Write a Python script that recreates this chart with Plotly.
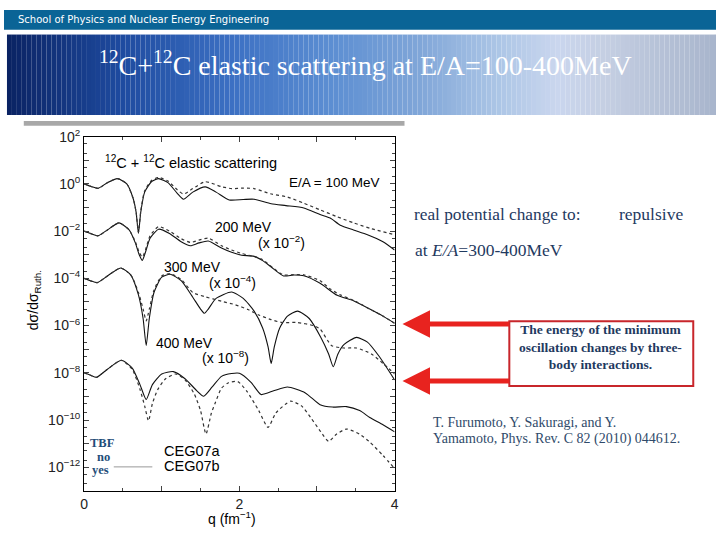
import plotly.graph_objects as go

W, H = 720, 540
def px(x): return x / W
def py(y): return 1 - y / H

# ---------------- data (log10 of dsigma/dsigma_Ruth, incl. scale factors) ----------------
# 100 MeV
q_100_b = [0, 0.1, 0.18, 0.3, 0.43, 0.55, 0.63, 0.67, 0.70, 0.73, 0.78, 0.87, 0.96, 1.08, 1.2, 1.28, 1.4, 1.56, 1.7, 1.87, 2.05, 2.19, 2.41, 2.6, 2.83, 3.04, 3.17, 3.3, 3.47, 3.65, 3.85, 4.0]
lg_100_b = [0.0, -0.12, -0.19, 0.05, 0.22, 0.0, -0.6, -1.2, -2.1, -1.2, -0.35, 0.1, 0.22, 0.05, -0.4, -0.65, -0.35, -0.13, -0.35, -0.68, -0.66, -0.65, -0.84, -0.92, -1.02, -1.3, -1.45, -1.75, -1.95, -2.15, -2.45, -2.8]
q_100_a = [0, 0.1, 0.18, 0.3, 0.43, 0.55, 0.63, 0.67, 0.70, 0.73, 0.78, 0.87, 0.96, 1.08, 1.2, 1.28, 1.4, 1.56, 1.77, 1.9, 2.05, 2.19, 2.4, 2.62, 2.83, 3.04, 3.25, 3.47, 3.7, 4.0]
lg_100_a = [0.0, -0.12, -0.19, 0.05, 0.22, 0.0, -0.6, -1.2, -2.05, -1.15, -0.3, 0.15, 0.27, 0.12, -0.25, -0.43, -0.2, 0.09, -0.12, -0.2, -0.18, -0.2, -0.42, -0.56, -0.82, -1.1, -1.38, -1.65, -1.9, -2.15]

# 200 MeV (x 1e-2)
q_200_b = [0, 0.1, 0.18, 0.3, 0.45, 0.58, 0.66, 0.71, 0.75, 0.79, 0.85, 0.96, 1.1, 1.25, 1.37, 1.48, 1.6, 1.77, 1.9, 2.03, 2.19, 2.3, 2.41, 2.57, 2.7, 2.83, 3.04, 3.26, 3.47, 3.68, 3.85, 4.0]
lg_200_b = [-2.0, -2.12, -2.2, -1.95, -1.65, -1.95, -2.5, -3.0, -3.24, -2.9, -2.3, -1.92, -2.1, -2.45, -2.62, -2.5, -2.42, -2.72, -2.9, -3.02, -3.07, -3.25, -3.52, -3.9, -3.86, -3.89, -4.21, -4.72, -4.95, -5.3, -5.6, -5.9]
q_200_a = [0, 0.1, 0.18, 0.3, 0.45, 0.58, 0.66, 0.71, 0.75, 0.79, 0.85, 0.96, 1.1, 1.25, 1.37, 1.48, 1.6, 1.77, 1.9, 2.03, 2.28, 2.45, 2.57, 2.7, 2.83, 3.04, 3.17, 3.3, 3.47, 3.68, 3.85, 4.0]
lg_200_a = [-2.0, -2.12, -2.2, -1.95, -1.65, -1.95, -2.45, -2.9, -3.1, -2.8, -2.2, -1.81, -2.0, -2.32, -2.48, -2.38, -2.3, -2.62, -2.8, -2.95, -3.17, -3.6, -3.86, -3.84, -3.85, -4.1, -4.45, -4.7, -4.93, -5.3, -5.6, -5.9]

# 300 MeV (x 1e-4)
q_300_b = [0, 0.08, 0.17, 0.3, 0.47, 0.6, 0.7, 0.76, 0.80, 0.84, 0.9, 1.0, 1.11, 1.25, 1.4, 1.5, 1.55, 1.6, 1.7, 1.9, 2.05, 2.19, 2.3, 2.37, 2.41, 2.45, 2.52, 2.62, 2.75, 2.9, 3.05, 3.15, 3.21, 3.27, 3.35, 3.51, 3.65, 3.8, 4.0]
lg_300_b = [-4.0, -4.1, -4.18, -3.9, -3.56, -3.85, -4.7, -5.7, -6.84, -5.7, -4.6, -3.95, -3.83, -4.1, -4.8, -5.3, -5.48, -5.3, -4.85, -4.58, -4.85, -5.39, -6.1, -6.9, -7.6, -6.9, -6.1, -5.6, -5.39, -5.7, -6.5, -7.2, -7.74, -7.2, -6.8, -6.5, -6.7, -7.3, -8.3]
q_300_a = [0, 0.08, 0.17, 0.3, 0.47, 0.6, 0.7, 0.76, 0.80, 0.84, 0.9, 1.0, 1.11, 1.25, 1.4, 1.55, 1.77, 1.95, 2.11, 2.25, 2.41, 2.55, 2.75, 2.95, 3.04, 3.19, 3.35, 3.51, 3.7, 3.85, 4.0]
lg_300_a = [-4.0, -4.1, -4.18, -3.9, -3.56, -3.85, -4.6, -5.3, -5.8, -5.3, -4.5, -3.9, -3.8, -4.05, -4.6, -4.77, -4.97, -5.12, -5.32, -5.55, -5.75, -5.87, -5.87, -6.0, -6.15, -6.85, -6.95, -6.95, -7.2, -7.6, -8.05]

# 400 MeV (x 1e-8)
q_400_b = [0, 0.08, 0.16, 0.3, 0.48, 0.62, 0.72, 0.80, 0.88, 1.0, 1.15, 1.3, 1.45, 1.54, 1.65, 1.77, 1.9, 2.0, 2.15, 2.28, 2.45, 2.62, 2.85, 3.04, 3.2, 3.38, 3.55, 3.68, 3.85, 4.0]
lg_400_b = [-8.0, -8.1, -8.19, -7.85, -7.47, -7.8, -8.5, -9.13, -8.5, -8.05, -7.95, -8.25, -8.75, -8.99, -8.6, -8.15, -8.03, -8.02, -8.4, -8.92, -8.75, -8.6, -8.85, -9.35, -9.45, -9.43, -9.6, -9.89, -10.2, -10.5]
q_400_a = [0, 0.08, 0.16, 0.3, 0.48, 0.62, 0.72, 0.78, 0.83, 0.88, 0.95, 1.05, 1.18, 1.3, 1.42, 1.5, 1.57, 1.64, 1.69, 1.77, 1.86, 1.98, 2.1, 2.25, 2.37, 2.47, 2.66, 2.8, 2.92, 3.05, 3.15, 3.25, 3.38, 3.55, 3.68, 3.85, 4.0]
lg_400_a = [-8.0, -8.1, -8.19, -7.85, -7.47, -7.85, -8.7, -9.4, -10.03, -9.3, -8.7, -8.25, -8.05, -8.3, -8.9, -9.6, -10.59, -9.7, -9.27, -8.65, -8.42, -8.37, -8.8, -9.6, -10.31, -9.7, -9.2, -9.4, -9.9, -10.5, -10.9, -10.6, -10.38, -10.6, -10.93, -11.5, -12.05]

x_tick_vals = [0, 1, 2, 3, 4]
x_tick_text = ["0", "", "2", "", "4"]
y_tick_exps = list(range(-13, 3))
y_tick_text = [("10<sup>%s</sup>" % (str(k).replace("-", "\u2212")) if k % 2 == 0 else "") for k in y_tick_exps]

series = [
    (q_100_b, lg_100_b, "solid"), (q_100_a, lg_100_a, "dot"),
    (q_200_b, lg_200_b, "solid"), (q_200_a, lg_200_a, "dot"),
    (q_300_b, lg_300_b, "solid"), (q_300_a, lg_300_a, "dot"),
    (q_400_b, lg_400_b, "solid"), (q_400_a, lg_400_a, "dot"),
]

fig = go.Figure()
for qs, lgs, dash in series:
    fig.add_trace(go.Scatter(
        x=qs, y=[10 ** v for v in lgs], mode="lines",
        line=dict(color="#111" if dash == "solid" else "#333", width=1.1 if dash == "solid" else 1.2,
                  dash=dash, shape="spline", smoothing=0.6),
        showlegend=False, hoverinfo="skip"))

SANS = "Liberation Sans, Arial, sans-serif"
SERIF = "Liberation Serif, Times New Roman, serif"

fig.update_layout(
    width=W, height=H, margin=dict(l=0, r=0, t=0, b=0),
    paper_bgcolor="white", plot_bgcolor="white",
    xaxis=dict(domain=[px(81), px(395)], range=[0, 4], showline=True, linecolor="black", linewidth=1,
               mirror="ticks", ticks="inside", ticklen=5, tickvals=x_tick_vals, ticktext=x_tick_text,
               showgrid=False, zeroline=False, tickfont=dict(family=SANS, size=14, color="#222"),
               minor=dict(ticks="inside", ticklen=3, dtick=0.5, showgrid=False)),
    yaxis=dict(domain=[py(490), py(129)], type="log", range=[-13, 2], showline=True, linecolor="black",
               linewidth=1, mirror="ticks", ticks="inside", ticklen=5,
               tickvals=[10 ** k for k in y_tick_exps], ticktext=y_tick_text,
               showgrid=False, zeroline=False, tickfont=dict(family=SANS, size=14, color="#222"),
               minor=dict(ticks="inside", ticklen=2.5, dtick="D2", showgrid=False)),
)

shapes = []
# top bar
shapes.append(dict(type="rect", xref="paper", yref="paper", x0=0, x1=1, y0=py(20), y1=1,
                   fillcolor="#0A6496", line=dict(width=0), layer="below"))
# banner gradient
stops = [(3, (10, 34, 98)), (120, (30, 75, 160)), (230, (60, 112, 195)), (330, (92, 142, 210)),
         (420, (128, 166, 216)), (500, (172, 198, 230)), (560, (202, 214, 238)), (610, (196, 206, 226)),
         (720, (168, 181, 204))]
def col(x):
    for (x0, c0), (x1, c1) in zip(stops[:-1], stops[1:]):
        if x0 <= x <= x1:
            t = (x - x0) / (x1 - x0)
            return "rgb(%d,%d,%d)" % tuple(round(a + (b - a) * t) for a, b in zip(c0, c1))
    return "rgb(%d,%d,%d)" % stops[-1][1]
x = 3
while x < 720:
    shapes.append(dict(type="rect", xref="paper", yref="paper", x0=px(x), x1=px(min(x + 5, 720)),
                       y0=py(107), y1=py(25), fillcolor=col(x + 2.5), line=dict(width=0), layer="below"))
    x += 5
# grey band at top of figure image
shapes.append(dict(type="rect", xref="paper", yref="paper", x0=px(20), x1=px(405), y0=py(118), y1=py(113),
                   fillcolor="#A8A8A8", line=dict(width=0), layer="below"))
# red box
shapes.append(dict(type="rect", xref="paper", yref="paper", x0=px(511), x1=px(697), y0=py(383), y1=py(317),
                   line=dict(color="#C8262B", width=2), fillcolor="rgba(0,0,0,0)"))
# legend line (CEG07b)
shapes.append(dict(type="line", xref="paper", yref="paper", x0=px(111), x1=px(150), y0=py(465.5), y1=py(465.5),
                   line=dict(color="#999", width=1)))
fig.update_layout(shapes=shapes)

ann = []
def A(text, x, y, size, family=SANS, color="black", xanchor="left", yanchor="middle", **kw):
    ann.append(dict(text=text, x=px(x), y=py(y), xref="paper", yref="paper", showarrow=False,
                    xanchor=xanchor, yanchor=yanchor, font=dict(family=family, size=size, color=color), **kw))

A("School of Physics and Nuclear Energy Engineering", 12, 10, 10, family="DejaVu Sans", color="white")
A("<sup>12</sup>C+<sup>12</sup>C elastic scattering at E/A=100-400MeV", 366, 55, 28, family=SERIF,
  color="white", xanchor="center")
A("<sup>12</sup>C + <sup>12</sup>C elastic scattering", 100, 155, 14.5)
A("E/A = 100 MeV", 381, 176, 13.5, xanchor="right")
A("200 MeV", 211, 221, 14)
A("(x 10<sup>\u22122</sup>)", 255, 236, 14)
A("300 MeV", 160, 262, 14)
A("(x 10<sup>\u22124</sup>)", 205, 277, 14)
A("400 MeV", 152, 339, 14)
A("(x 10<sup>\u22128</sup>)", 198, 354, 14)
A("CEG07a", 160, 449, 14.5)
A("CEG07b", 160, 465, 14.5)
A("<b>TBF</b>", 85, 441, 12.5, family=SERIF, color="#1F4E79")
A("<b>no</b>", 92, 455, 12.5, family=SERIF, color="#1F4E79")
A("<b>yes</b>", 87, 469, 12.5, family=SERIF, color="#1F4E79")
A("d\u03c3/d\u03c3<sub>Ruth.</sub>", 30, 296, 14, xanchor="center", textangle=-90)
A("q (fm<sup>\u22121</sup>)", 231, 518, 14, xanchor="center")
A("real potential change to:", 413, 208, 17.3, family=SERIF, color="#1F3A5F")
A("repulsive", 620, 208, 17.5, family=SERIF, color="#1F3A5F")
A("at <i>E/A</i>=300-400MeV", 414, 245, 17.5, family=SERIF, color="#1F3A5F")
A("<b>The energy of the minimum<br>oscillation changes by three-<br>body interactions.</b>", 603, 343, 13.5,
  family=SERIF, color="#1F3A5F", xanchor="center", align="center")
A("T. Furumoto, Y. Sakuragi, and Y.", 432, 420, 14, family=SERIF, color="#2F4A6A")
A("Yamamoto, Phys. Rev. C 82 (2010) 044612.", 432, 437, 14, family=SERIF, color="#2F4A6A")
# red arrows
for yy in (320, 378):
    ann.append(dict(text="", x=px(403), y=py(yy), xref="paper", yref="paper", showarrow=True,
                    ax=108, ay=0, arrowhead=2, arrowsize=1.1, arrowwidth=5, arrowcolor="#E8231F"))
fig.update_layout(annotations=ann)

fig.write_html("out.html", config={"displayModeBar": False},
               post_script="document.body.style.margin='0';document.body.style.overflow='hidden';")
